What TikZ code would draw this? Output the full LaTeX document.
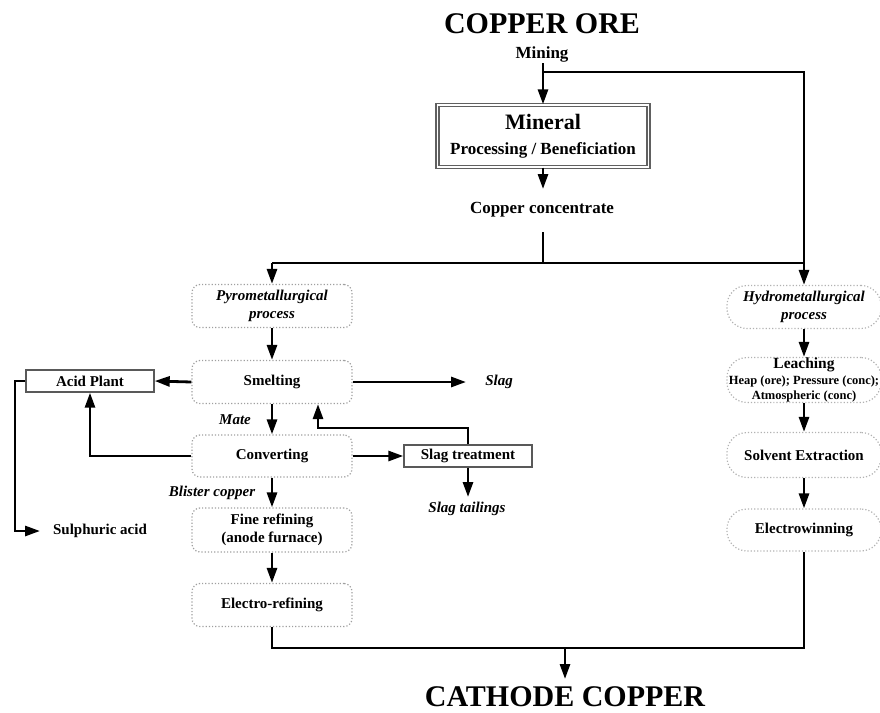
\documentclass[tikz,border=0pt]{standalone}
\usepackage{fontspec}
\setmainfont{Liberation Serif}
\usetikzlibrary{arrows.meta,calc}
\newcommand\setfs[2]{\fontsize{#1}{#2}\selectfont}
\begin{document}
\begin{tikzpicture}[x=1pt,y=-1pt,
  flow/.style={line width=2.8pt,-{Triangle[length=15pt,width=10pt]}},
  link/.style={line width=2.8pt},
  title/.style={font=\bfseries\setfs{30}{34}},
  label/.style={font=\bfseries\setfs{17}{19}},
  note/.style={font=\bfseries\itshape\setfs{15}{17}},
  pbox/.style={draw=gray!75, dotted, line width=1.2pt, rounded corners=8pt,
    minimum width=160pt, minimum height=43pt, inner sep=0pt, align=center,
    font=\bfseries\setfs{15}{18}},
  hbox/.style={draw=gray!60, dotted, line width=1.2pt, rounded corners=20pt,
    minimum width=154pt, minimum height=43pt, inner sep=0pt, align=center,
    font=\bfseries\setfs{15}{18}},
  sbox/.style={draw=black!65, line width=1.4pt, minimum width=128pt,
    minimum height=22pt, inner sep=0pt, font=\bfseries\setfs{15}{17}}]
\useasboundingbox (0,0) rectangle (880,712);

% top: ore and beneficiation
\node[title] (ore) at (542,24) {COPPER ORE};
\node[label] (mining) at (542,54) {Mining};
\node[draw=gray!75!black, double=white, double distance=1.6pt, line width=1.3pt,
  minimum width=211pt, minimum height=62pt, inner sep=0pt, align=center,
  font=\bfseries\setfs{17}{25}]
  (mineral) at (543,136)
  {{\setfs{22}{25}Mineral}\\Processing / Beneficiation};
\node[label] (conc) at (542,210) {Copper concentrate};

\coordinate (mtop) at (543,63);
\coordinate (jtop) at (543,72);
\coordinate (ctip) at (543,189);
\coordinate (cbot) at (543,232);
\coordinate (jmid) at (543,263);

% pyrometallurgical route
\node[pbox] (pyro) at (272,306) {\itshape Pyrometallurgical\\\itshape process};
\node[pbox] (smelt) at (272,382) {Smelting};
\node[pbox, minimum height=42pt] (conv) at (272,456) {Converting};
\node[pbox, minimum height=44pt] (fine) at (272,530) {Fine refining\\(anode furnace)};
\node[pbox] (elec) at (272,605) {Electro-refining};

\node[sbox] (acid) at (90,381) {Acid Plant};
\node[sbox] (slagt) at (468,456) {Slag treatment};

\node[note] (slag) at (499,382) {Slag};
\node[note] (mate) at (235,420) {Mate};
\node[note] (blister) at (212,493) {Blister copper};
\node[note] (tail) at (467,509) {Slag tailings};
\node[font=\bfseries\setfs{15}{17}] (sulph) at (100,531) {Sulphuric acid};

% hydrometallurgical route
\node[hbox] (hydro) at (804,307) {\itshape Hydrometallurgical\\\itshape process};
\node[hbox, minimum height=45pt, font=\bfseries\setfs{12.5}{15.5}] (leach) at (804,380)
  {{\setfs{15.5}{15.5}Leaching}\\Heap (ore); Pressure (conc);\\Atmospheric (conc)};
\node[hbox, minimum height=45pt] (solv) at (804,455) {Solvent Extraction};
\node[hbox, minimum height=42pt] (ew) at (804,530) {Electrowinning};

\node[title] (cath) at (565,697) {CATHODE COPPER};

% connectors
\draw[flow] (mtop) -- (mineral.north);
\draw[flow] (jtop) -| (hydro.north);
\draw[flow] (mineral.south) -- (ctip);
\draw[link] (cbot) -- (jmid);
\draw[link] (pyro.north |- jmid) -- (jmid -| hydro.north);
\draw[flow] (pyro.north |- jmid) -- (pyro.north);

\draw[flow] (pyro) -- (smelt);
\draw[flow] (smelt) -- (conv);
\draw[flow] (conv) -- (fine);
\draw[flow] (fine) -- (elec);

\coordinate (slagtip) at (466,382);
\draw[flow] (smelt.east) -- (slagtip);
\draw[flow] (smelt.west) -- (acid.east);

\coordinate (sleft) at (15,381);
\coordinate (stip) at (40,531);
\draw[flow] (acid.west) -- (sleft) |- (stip);
\draw[flow] (conv.west) -| (acid.south);
\draw[flow] (conv.east) -- (slagt.west);

\coordinate (ret) at (318,428);
\draw[flow] (slagt.north) |- (ret) -- (ret |- smelt.south);
\coordinate (ttip) at (468,497);
\draw[flow] (slagt.south) -- (ttip);

\draw[flow] (hydro) -- (leach);
\draw[flow] (leach) -- (solv);
\draw[flow] (solv) -- (ew);

\coordinate (jbot) at (565,648);
\coordinate (btip) at (565,679);
\draw[link] (elec.south) |- (jbot) -| (ew.south);
\draw[flow] (jbot) -- (btip);
\end{tikzpicture}
\end{document}
